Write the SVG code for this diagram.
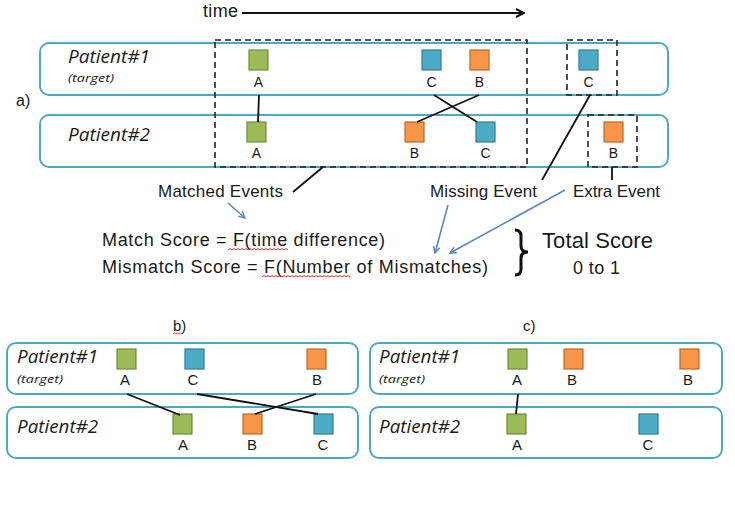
<svg xmlns="http://www.w3.org/2000/svg" width="735" height="507" viewBox="0 0 735 507">
<defs>
<style>
.lane{fill:none;stroke:#4fa8c2;stroke-width:2}
.dash{fill:none;stroke:#222;stroke-width:1.6;stroke-dasharray:6 4}
.g{fill:#9bbb59;stroke:#6f8c3a;stroke-width:1.2}
.c{fill:#4bacc6;stroke:#2f7e93;stroke-width:1.2}
.o{fill:#f79646;stroke:#b86a2c;stroke-width:1.2}
.t{font-family:"Liberation Sans",Arial,sans-serif;fill:#1a1a1a}
.pl{font-family:"Open Sans","Liberation Sans",sans-serif;font-size:17.5px;font-style:italic;font-weight:500}
.tg{font-family:"Open Sans","Liberation Sans",sans-serif;font-size:10.5px;font-style:italic;font-weight:500}
.lb{font-size:14px;text-anchor:middle}
.lb2{font-size:15px;text-anchor:middle}
.ln{stroke:#111;stroke-width:1.8;fill:none}
.bl{stroke:#5b87c0;stroke-width:1.6;fill:none;marker-end:url(#bh)}
.wv{stroke:#d9302c;stroke-width:1;fill:none}
</style>
<marker id="bh" viewBox="0 0 10 10" refX="9" refY="5" markerWidth="5" markerHeight="5" orient="auto" markerUnits="strokeWidth">
<path d="M1,1 L9,5 L1,9" fill="none" stroke="#5b87c0" stroke-width="1.8"/>
</marker>
<marker id="kh" viewBox="0 0 10 10" refX="9" refY="5" markerWidth="5" markerHeight="5" orient="auto" markerUnits="strokeWidth">
<path d="M1,1 L9,5 L1,9" fill="none" stroke="#111" stroke-width="2"/>
</marker>
</defs>
<rect width="735" height="507" fill="#fff"/>

<!-- Panel a -->
<g id="time-axis">
<text class="t" x="203" y="17" font-size="18" textLength="35">time</text>
<line x1="242" y1="13" x2="524" y2="13" stroke="#111" stroke-width="2" marker-end="url(#kh)"/>
</g>
<text class="t" x="16" y="106" font-size="16">a)</text>

<g id="a-patient1">
<rect class="lane" x="40" y="43" width="628" height="52" rx="9"/>
<text class="t pl" x="68" y="63" textLength="82" lengthAdjust="spacingAndGlyphs">Patient#1</text>
<text class="t tg" x="68" y="82" textLength="46" lengthAdjust="spacingAndGlyphs">(target)</text>
</g>
<g id="a-patient2">
<rect class="lane" x="40" y="115" width="628" height="52" rx="9"/>
<text class="t pl" x="68" y="141" textLength="82" lengthAdjust="spacingAndGlyphs">Patient#2</text>
</g>

<g id="a-matched-box"><rect class="dash" x="215" y="40" width="312" height="127"/></g>
<g id="a-missing-box"><rect class="dash" x="567" y="40" width="50" height="55"/></g>
<g id="a-extra-box"><rect class="dash" x="588" y="115" width="49" height="52"/></g>

<g id="a-p1-A"><rect class="g" x="249" y="50" width="19" height="20"/><text class="t lb" x="258.5" y="87">A</text></g>
<g id="a-p1-C"><rect class="c" x="422" y="50" width="19" height="20"/><text class="t lb" x="431.5" y="87">C</text></g>
<g id="a-p1-B"><rect class="o" x="470" y="50" width="19" height="20"/><text class="t lb" x="479.5" y="87">B</text></g>
<g id="a-p1-C2"><rect class="c" x="579" y="50" width="19" height="20"/><text class="t lb" x="588.5" y="87">C</text></g>
<g id="a-p2-A"><rect class="g" x="247" y="122" width="19" height="20"/><text class="t lb" x="256.5" y="158">A</text></g>
<g id="a-p2-B"><rect class="o" x="405" y="122" width="19" height="20"/><text class="t lb" x="414.5" y="158">B</text></g>
<g id="a-p2-C"><rect class="c" x="476" y="122" width="19" height="20"/><text class="t lb" x="485.5" y="158">C</text></g>
<g id="a-p2-B2"><rect class="o" x="604" y="122" width="19" height="20"/><text class="t lb" x="613.5" y="158">B</text></g>

<g id="a-labels">
<text class="t" x="158" y="197" font-size="17" textLength="125">Matched Events</text>
<text class="t" x="430" y="197" font-size="17" textLength="107">Missing Event</text>
<text class="t" x="573" y="197" font-size="17" textLength="87">Extra Event</text>
<text class="t" x="102" y="246" font-size="18" textLength="283">Match Score = F(time difference)</text>
<text class="t" x="102" y="273" font-size="18" textLength="386">Mismatch Score = F(Number of Mismatches)</text>
<text class="t" x="542" y="248" font-size="22" textLength="111">Total Score</text>
<text class="t" x="573" y="274" font-size="18" textLength="47">0 to 1</text>
<path d="M515,230 Q521,230 521,236 L521,246 Q521,252 528,252 Q521,252 521,258 L521,269 Q521,275 515,275" stroke="#111" stroke-width="3" fill="none"/>
<path class="wv" d="M228,250 l2,-1.5 l2,1.5 l2,-1.5 l2,1.5 l2,-1.5 l2,1.5 l2,-1.5 l2,1.5 l2,-1.5 l2,1.5 l2,-1.5 l2,1.5 l2,-1.5 l2,1.5 l2,-1.5 l2,1.5 l2,-1.5 l2,1.5 l2,-1.5 l2,1.5 l2,-1.5 l2,1.5 l2,-1.5 l2,1.5 l2,-1.5 l2,1.5 l2,-1.5 l2,1.5 l2,-1.5 l2,1.5"/>
<path class="wv" d="M262,277 l2,-1.5 l2,1.5 l2,-1.5 l2,1.5 l2,-1.5 l2,1.5 l2,-1.5 l2,1.5 l2,-1.5 l2,1.5 l2,-1.5 l2,1.5 l2,-1.5 l2,1.5 l2,-1.5 l2,1.5 l2,-1.5 l2,1.5 l2,-1.5 l2,1.5 l2,-1.5 l2,1.5 l2,-1.5 l2,1.5 l2,-1.5 l2,1.5 l2,-1.5 l2,1.5 l2,-1.5 l2,1.5 l2,-1.5 l2,1.5 l2,-1.5 l2,1.5 l2,-1.5 l2,1.5 l2,-1.5 l2,1.5 l2,-1.5 l2,1.5 l2,-1.5 l2,1.5 l2,-1.5 l2,1.5"/>
</g>

<!-- Panel b -->
<text class="t" x="173" y="331" font-size="15">b)</text>
<path class="wv" d="M173,334 l1.5,-1 l1.5,1 l1.5,-1 l1.5,1 l1.5,-1 l1.5,1"/>
<g id="b-patient1">
<rect class="lane" x="7" y="343" width="351" height="51" rx="9"/>
<text class="t pl" x="17" y="363" textLength="81" lengthAdjust="spacingAndGlyphs">Patient#1</text>
<text class="t tg" x="17" y="383" textLength="46" lengthAdjust="spacingAndGlyphs">(target)</text>
</g>
<g id="b-patient2">
<rect class="lane" x="7" y="407" width="351" height="51" rx="9"/>
<text class="t pl" x="17" y="433" textLength="81" lengthAdjust="spacingAndGlyphs">Patient#2</text>
</g>
<g id="b-p1-A"><rect class="g" x="117" y="349" width="19" height="20"/><text class="t lb2" x="125" y="385">A</text></g>
<g id="b-p1-C"><rect class="c" x="185" y="349" width="19" height="20"/><text class="t lb2" x="193" y="385">C</text></g>
<g id="b-p1-B"><rect class="o" x="307" y="349" width="19" height="20"/><text class="t lb2" x="317" y="385">B</text></g>
<g id="b-p2-A"><rect class="g" x="173" y="414" width="19" height="20"/><text class="t lb2" x="183" y="450">A</text></g>
<g id="b-p2-B"><rect class="o" x="243" y="414" width="19" height="20"/><text class="t lb2" x="252" y="450">B</text></g>
<g id="b-p2-C"><rect class="c" x="314" y="414" width="19" height="20"/><text class="t lb2" x="323" y="450">C</text></g>

<!-- Panel c -->
<text class="t" x="523" y="331" font-size="15">c)</text>
<g id="c-patient1">
<rect class="lane" x="370" y="343" width="352" height="51" rx="9"/>
<text class="t pl" x="379" y="363" textLength="81" lengthAdjust="spacingAndGlyphs">Patient#1</text>
<text class="t tg" x="379" y="383" textLength="46" lengthAdjust="spacingAndGlyphs">(target)</text>
</g>
<g id="c-patient2">
<rect class="lane" x="370" y="407" width="352" height="51" rx="9"/>
<text class="t pl" x="379" y="433" textLength="81" lengthAdjust="spacingAndGlyphs">Patient#2</text>
</g>
<g id="c-p1-A"><rect class="g" x="508" y="349" width="19" height="20"/><text class="t lb2" x="517" y="385">A</text></g>
<g id="c-p1-B"><rect class="o" x="564" y="349" width="19" height="20"/><text class="t lb2" x="572" y="385">B</text></g>
<g id="c-p1-B2"><rect class="o" x="680" y="349" width="19" height="20"/><text class="t lb2" x="688" y="385">B</text></g>
<g id="c-p2-A"><rect class="g" x="507" y="414" width="19" height="20"/><text class="t lb2" x="517" y="450">A</text></g>
<g id="c-p2-C"><rect class="c" x="639" y="414" width="19" height="20"/><text class="t lb2" x="648" y="450">C</text></g>

<g id="connectors">
<line class="ln" x1="259" y1="95" x2="258" y2="122"/>
<line class="ln" x1="434" y1="95" x2="477" y2="122"/>
<line class="ln" x1="479" y1="95" x2="417" y2="122"/>
<line class="ln" x1="323" y1="167" x2="293" y2="192"/>
<line class="ln" x1="590" y1="95" x2="542" y2="180"/>
<line class="ln" x1="612" y1="167" x2="612" y2="180"/>
<line class="bl" x1="228" y1="203" x2="245" y2="218"/>
<line class="bl" x1="448" y1="205" x2="435" y2="253"/>
<line class="bl" x1="565" y1="190" x2="450" y2="253"/>
<line class="ln" x1="127" y1="394" x2="180" y2="415"/>
<line class="ln" x1="197" y1="394" x2="318" y2="414"/>
<line class="ln" x1="316" y1="394" x2="255" y2="414"/>
<line class="ln" x1="518" y1="394" x2="516" y2="414"/>
</g>
</svg>
